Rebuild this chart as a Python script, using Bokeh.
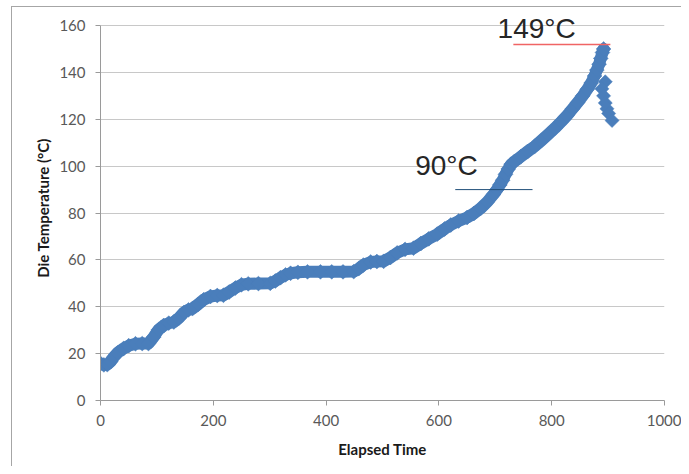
import math
from bokeh.plotting import figure
from bokeh.models import Range1d, Label, FixedTicker
from bokeh.embed import file_html
from bokeh.resources import INLINE

# ---- data ----
elapsed_time = [0, 6, 12, 18, 23, 30, 41, 50, 62, 74, 85, 94, 103, 112, 121, 130,
                139, 148, 156, 163, 173, 183, 195, 207, 218, 228, 239, 250, 262,
                280, 301, 310, 319, 328, 337, 350, 367, 390, 410, 430, 449, 458,
                466, 479, 490, 502, 514, 526, 540, 555, 568, 582, 597, 610, 621,
                635, 650, 662, 674, 686, 697, 703, 708, 713, 718, 723, 728, 734,
                745, 757, 770, 782, 794, 806, 817, 827, 837, 846, 855, 863, 870,
                876, 880, 884, 887, 890, 892]
die_temp = [15.8, 15.2, 15.3, 16.6, 18.4, 20.3, 22.2, 23.4, 24.2, 24.3, 24.3, 27.0,
            30.2, 32.0, 33.0, 33.5, 35.2, 37.6, 38.7, 39.2, 41.0, 43.0, 44.4, 44.8,
            44.9, 46.3, 48.0, 49.4, 49.8, 49.9, 50.0, 51.0, 52.4, 53.6, 54.3, 54.7,
            54.9, 54.9, 54.9, 54.9, 55.0, 56.3, 57.8, 59.1, 59.3, 59.4, 61.0, 63.0,
            64.5, 65.0, 67.0, 69.0, 71.0, 73.2, 74.9, 76.6, 78.1, 79.8, 82.0, 84.8,
            88.0, 90.0, 92.0, 94.0, 96.5, 98.8, 100.8, 102.0, 104.0, 106.2, 108.5,
            111.0, 113.6, 116.3, 119.0, 121.6, 124.5, 127.2, 130.0, 132.8, 135.5,
            138.5, 141.0, 143.5, 146.0, 148.5, 150.0]
cooldown_time = [895, 889, 892, 895, 898, 901, 907]
cooldown_temp = [136.0, 133.0, 130.0, 127.0, 124.5, 122.5, 119.5]

x_ticks = [0, 200, 400, 600, 800, 1000]
y_ticks = [0, 20, 40, 60, 80, 100, 120, 140, 160]
x_title = "Elapsed Time"
y_title = "Die Temperature (°C)"

peak_text = "149°C"
threshold_text = "90°C"

BLUE = "#4A7EBB"
TICK_FONT = "Lato"
Y_MAX = 160

# canvas placed at page (12, 7) by margin + 1px border
p = figure(width=670, height=460, output_backend="svg", toolbar_location=None,
           x_range=Range1d(0, 1000), y_range=Range1d(0, 164.3),
           min_border_left=88, min_border_right=18, min_border_top=8,
           min_border_bottom=67)
p.margin = (6, 0, 0, 11)
p.styles = {"border-left": "1px solid #a6a6a6", "border-top": "1px solid #a6a6a6"}
p.outline_line_color = None
p.background_fill_color = "white"
p.border_fill_color = "white"

# grid
p.xgrid.grid_line_color = None
p.ygrid.grid_line_color = "#c8c8c8"
p.ygrid.grid_line_width = 1

for ax in (p.xaxis[0], p.yaxis[0]):
    ax.axis_line_color = "#9a9a9a"
    ax.major_tick_line_color = "#9a9a9a"
    ax.major_tick_out = 5
    ax.major_tick_in = 0
    ax.minor_tick_line_color = None
    ax.major_label_text_font = TICK_FONT
    ax.major_label_text_font_size = "15px"
    ax.major_label_text_color = "#595959"
    ax.axis_label_text_font = TICK_FONT
    ax.axis_label_text_font_style = "bold"
    ax.axis_label_text_font_size = "15px"
    ax.axis_label_text_color = "#1a1a1a"

p.xaxis[0].ticker = FixedTicker(ticks=x_ticks)
p.yaxis[0].ticker = FixedTicker(ticks=y_ticks)
p.yaxis[0].bounds = (0, Y_MAX)
p.xaxis[0].axis_label = x_title
p.yaxis[0].axis_label = y_title
p.xaxis[0].major_label_standoff = 9
p.yaxis[0].major_label_standoff = 10
p.xaxis[0].axis_label_standoff = 11
p.yaxis[0].axis_label_standoff = 4

# series: dense diamond markers forming a thick band
p.line(elapsed_time, die_temp, line_width=12, line_color=BLUE,
       line_join="round", line_cap="round")
p.scatter(elapsed_time, die_temp, marker="square", angle=math.pi / 4, size=10.5,
          fill_color=BLUE, line_color=BLUE, line_width=0.5)
p.scatter(cooldown_time, cooldown_temp, marker="square", angle=math.pi / 4, size=10,
          fill_color=BLUE, line_color=BLUE, line_width=0.5)

# annotations
p.segment(x0=[732], y0=[151.9], x1=[904], y1=[151.9], line_color="#f06464",
          line_width=1.5)
p.segment(x0=[629], y0=[90.0], x1=[766], y1=[90.0], line_color="#1F4E79",
          line_width=1)
p.add_layout(Label(x=704, y=158.6, text=peak_text, text_font="Liberation Sans",
                   text_font_size="28px", text_color="#262626",
                   text_baseline="middle", text_align="left"))
p.add_layout(Label(x=558, y=100.3, text=threshold_text, text_font="Liberation Sans",
                   text_font_size="28px", text_color="#262626",
                   text_baseline="middle", text_align="left"))

open("out.html", "w").write(file_html(p, INLINE))
